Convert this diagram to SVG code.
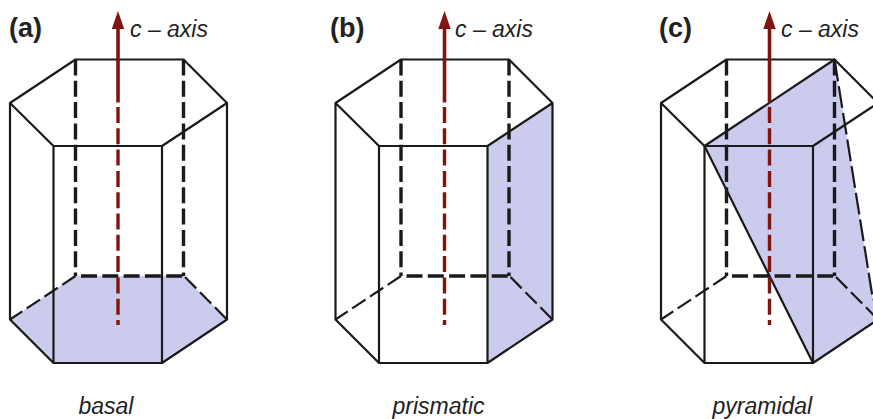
<svg xmlns="http://www.w3.org/2000/svg" width="873" height="419" viewBox="0 0 873 419">
<style>
.e{fill:none;stroke:#1a1a1a;stroke-width:2.2;stroke-linejoin:round;stroke-linecap:round}
.d{fill:none;stroke:#1a1a1a;stroke-width:3.4;stroke-dasharray:16 5.3}
.t{fill:none;stroke:#1a1a1a;stroke-width:2.2;stroke-dasharray:16 5.3}
.f{fill:#cacbed;stroke:none}
.a{fill:none;stroke:#7f1410;stroke-width:3.6}
.ad{fill:none;stroke:#7f1410;stroke-width:3.4;stroke-dasharray:16 5.3}
.h{fill:#7f1410}
.l{font:bold 27px "Liberation Sans",Arial,sans-serif;fill:#222}
.i{font:italic 23px "Liberation Sans",Arial,sans-serif;fill:#222}
</style>
<defs>
<g id="prism">
<path class="d" d="M75.500 59.500V276M183.500 59.500V276M81 276H183.500"/>
<path class="t" d="M75.500 276L10 319.500M185 277L227 319.500"/>
<path class="e" d="M10 103L75.500 59.500H183.500L227 103L162 146H53.500ZM10 103V319.500L53.500 363H162L227 319.500V103M53.500 146V363M162 146V363"/>
</g>
<g id="axis">
<path class="ad" d="M0 107V325"/>
<path class="a" d="M0 25V102.500"/>
<path class="h" d="M0 11L6.200 29H-6.200Z"/>
</g>
</defs>
<g id="panel-a">
<path class="f" d="M75.500 276H183.500L227 319.500L162 363H53.500L10 319.500Z"/>
<use href="#prism"/>
<use href="#axis" x="118"/>
<text class="l" x="9" y="37">(a)</text>
<text class="i" x="130" y="37">c – axis</text>
<text class="i" x="78.500" y="414">basal</text>
</g>
<g id="panel-b">
<path class="f" d="M487.500 146L552.500 103V319.500L487.500 363Z"/>
<use href="#prism" x="325.500"/>
<use href="#axis" x="444.500"/>
<text class="l" x="330" y="37">(b)</text>
<text class="i" x="455" y="37">c – axis</text>
<text class="i" x="392.500" y="414">prismatic</text>
</g>
<g id="panel-c">
<path class="f" d="M704.500 146L834.500 59.500L873 300V322.500L813 363Z"/>
<use href="#prism" x="651"/>
<path class="e" d="M704.500 146L834.500 59.500M704.500 146L813 363"/>
<path class="t" style="stroke-dasharray:22 5" d="M834.500 59.500L873 300"/>
<use href="#axis" x="769.500"/>
<text class="l" x="659" y="37">(c)</text>
<text class="i" x="781" y="37">c – axis</text>
<text class="i" x="712.500" y="414">pyramidal</text>
</g>
</svg>
